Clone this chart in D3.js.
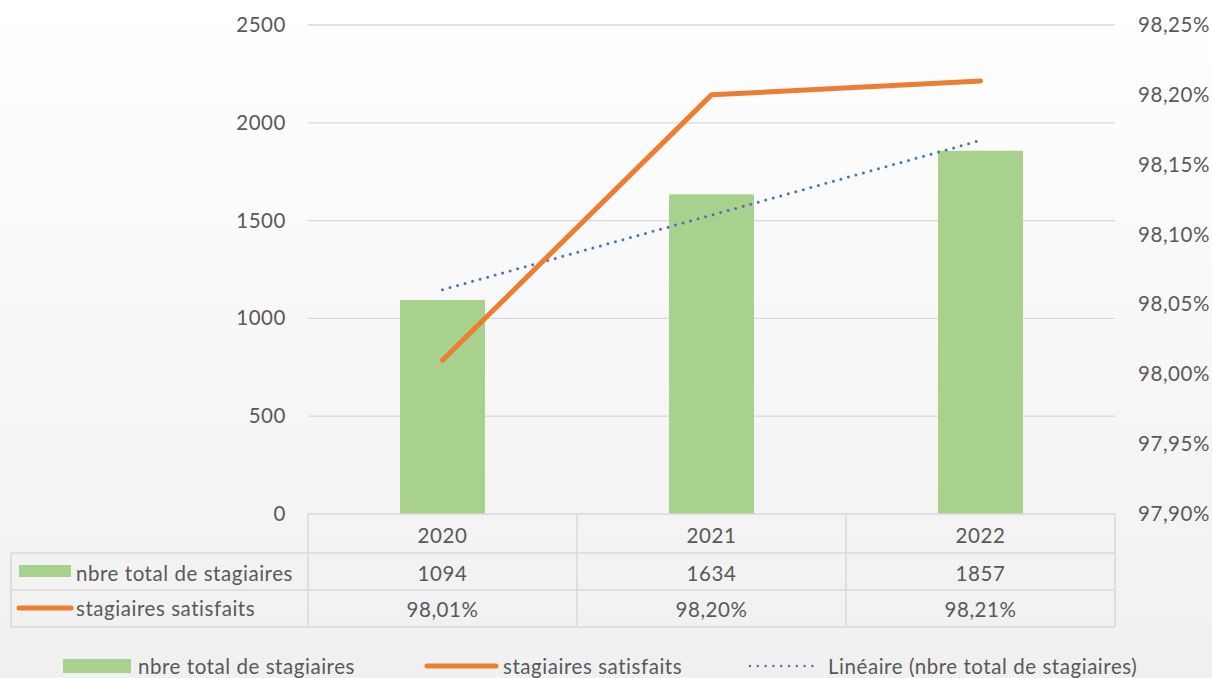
<!DOCTYPE html>
<html><head><meta charset="utf-8">
<script src="https://cdn.jsdelivr.net/npm/d3@7"></script>
<style>html,body{margin:0;padding:0;}svg{display:block;}</style>
</head><body>
<script>
const categories = ["2020", "2021", "2022"];
const stagiaires = [1094, 1634, 1857];
const satisfaits = [98.01, 98.20, 98.21];
const trend = [1147, 1528, 1910];
const leftTicks = [0, 500, 1000, 1500, 2000, 2500];
const rightTicks = [97.90, 97.95, 98.00, 98.05, 98.10, 98.15, 98.20, 98.25];
const seriesNames = ["nbre total de stagiaires", "stagiaires satisfaits", "Linéaire (nbre total de stagiaires)"];

const W = 1212, H = 678;
const FONT = "Lato, 'Open Sans', sans-serif";
const FS = 20.5, LS = 0.55;
const TXT = "#595959", GRID = "#d9d9d9";
const cGreen = "#a9d18e", cOrange = "#ed7d31", cBlue = "#4472c4";
const pLeft = 308, pRight = 1115, pTop = 25, pBottom = 514;

const svg = d3.select("body").append("svg").attr("width", W).attr("height", H);
const defs = svg.append("defs");
const g = defs.append("linearGradient").attr("id", "bg").attr("x1", 0).attr("y1", 0).attr("x2", 0).attr("y2", 1);
g.append("stop").attr("offset", "0%").attr("stop-color", "#ffffff");
g.append("stop").attr("offset", "100%").attr("stop-color", "#f0f0f0");
svg.append("rect").attr("width", W).attr("height", H).attr("fill", "url(#bg)");

const styleText = sel => sel.attr("font-family", FONT).attr("font-size", FS)
  .attr("letter-spacing", LS).attr("fill", TXT);

const x = d3.scaleBand().domain(categories).range([pLeft, pRight]).paddingInner(0).paddingOuter(0);
const y = d3.scaleLinear().domain([0, 2500]).range([pBottom, pTop]);
const y2 = d3.scaleLinear().domain([97.90, 98.25]).range([pBottom, pTop]);

// gridlines
svg.append("g").selectAll("line").data(leftTicks.filter(d => d > 0)).join("line")
  .attr("x1", pLeft).attr("x2", pRight).attr("y1", d => y(d)).attr("y2", d => y(d))
  .attr("stroke", GRID).attr("stroke-width", 1.3);

// left axis labels
const la = svg.append("g").attr("transform", `translate(${pLeft},0)`)
  .call(d3.axisLeft(y).tickValues(leftTicks).tickSize(0).tickPadding(22).tickFormat(d3.format("d")));
la.select(".domain").remove();
la.selectAll("text").call(styleText);

// right axis labels
const fmtPct = d => d.toFixed(2).replace(".", ",") + "%";
const ra = svg.append("g").attr("transform", `translate(${pRight},0)`)
  .call(d3.axisRight(y2).tickValues(rightTicks).tickSize(0).tickPadding(23).tickFormat(fmtPct));
ra.select(".domain").remove();
ra.selectAll("text").call(styleText);

// bars
const bw = 85;
svg.append("g").selectAll("rect").data(stagiaires).join("rect")
  .attr("x", (d, i) => x(categories[i]) + x.bandwidth() / 2 - bw / 2)
  .attr("width", bw)
  .attr("y", d => y(d)).attr("height", d => y(0) - y(d))
  .attr("fill", cGreen);

// trend line
const cx = (d, i) => x(categories[i]) + x.bandwidth() / 2;
svg.append("path").datum(trend)
  .attr("d", d3.line().x(cx).y(d => y(d)))
  .attr("fill", "none").attr("stroke", cBlue).attr("stroke-width", 3)
  .attr("stroke-dasharray", "0 7.8").attr("stroke-linecap", "round");

// satisfaction line
svg.append("path").datum(satisfaits)
  .attr("d", d3.line().x(cx).y(d => y2(d)))
  .attr("fill", "none").attr("stroke", cOrange).attr("stroke-width", 5)
  .attr("stroke-linecap", "round").attr("stroke-linejoin", "round");

// data table
const tbl = svg.append("g");
const rowY = [514, 553, 590, 627];
const tLeft = 11;
const lineAttr = sel => sel.attr("stroke", GRID).attr("stroke-width", 1.5).attr("fill", "none");
tbl.append("line").attr("x1", pLeft).attr("x2", pRight).attr("y1", rowY[0]).attr("y2", rowY[0]).call(lineAttr);
[1, 2, 3].forEach(k => tbl.append("line").attr("x1", tLeft).attr("x2", pRight).attr("y1", rowY[k]).attr("y2", rowY[k]).call(lineAttr));
tbl.append("line").attr("x1", tLeft).attr("x2", tLeft).attr("y1", rowY[1]).attr("y2", rowY[3]).call(lineAttr);
categories.concat(["end"]).forEach((c, i) => {
  const xx = i < categories.length ? x(c) : pRight;
  tbl.append("line").attr("x1", xx).attr("x2", xx).attr("y1", rowY[0]).attr("y2", rowY[3]).call(lineAttr);
});
const cellText = (txt, xx, yy, anchor) => tbl.append("text").attr("x", xx).attr("y", yy)
  .attr("text-anchor", anchor || "middle").attr("dominant-baseline", "central")
  .call(styleText).text(txt);
categories.forEach((c, i) => {
  const mx = x(c) + x.bandwidth() / 2;
  cellText(c, mx, (rowY[0] + rowY[1]) / 2 + 1);
  cellText(String(stagiaires[i]), mx, (rowY[1] + rowY[2]) / 2 + 1);
  cellText(fmtPct(satisfaits[i]), mx, (rowY[2] + rowY[3]) / 2);
});
tbl.append("rect").attr("x", 19).attr("y", 565).attr("width", 52).attr("height", 12).attr("fill", cGreen);
cellText(seriesNames[0], 76, (rowY[1] + rowY[2]) / 2 + 1, "start");
tbl.append("line").attr("x1", 19).attr("x2", 71).attr("y1", 608).attr("y2", 608)
  .attr("stroke", cOrange).attr("stroke-width", 5).attr("stroke-linecap", "round");
cellText(seriesNames[1], 76, (rowY[2] + rowY[3]) / 2 - 1, "start");

// bottom legend
const lg = svg.append("g");
const ly = 666;
const legText = (txt, xx) => lg.append("text").attr("x", xx).attr("y", ly)
  .attr("dominant-baseline", "central").call(styleText).text(txt);
lg.append("rect").attr("x", 63).attr("y", 659).attr("width", 68).attr("height", 14).attr("fill", cGreen);
legText(seriesNames[0], 138);
lg.append("line").attr("x1", 427).attr("x2", 496).attr("y1", ly).attr("y2", ly)
  .attr("stroke", cOrange).attr("stroke-width", 5).attr("stroke-linecap", "round");
legText(seriesNames[1], 503);
lg.append("line").attr("x1", 750).attr("x2", 820).attr("y1", ly).attr("y2", ly)
  .attr("stroke", cBlue).attr("stroke-width", 2.5).attr("stroke-dasharray", "0 7.8").attr("stroke-linecap", "round");
legText(seriesNames[2], 828);
</script>
</body></html>
